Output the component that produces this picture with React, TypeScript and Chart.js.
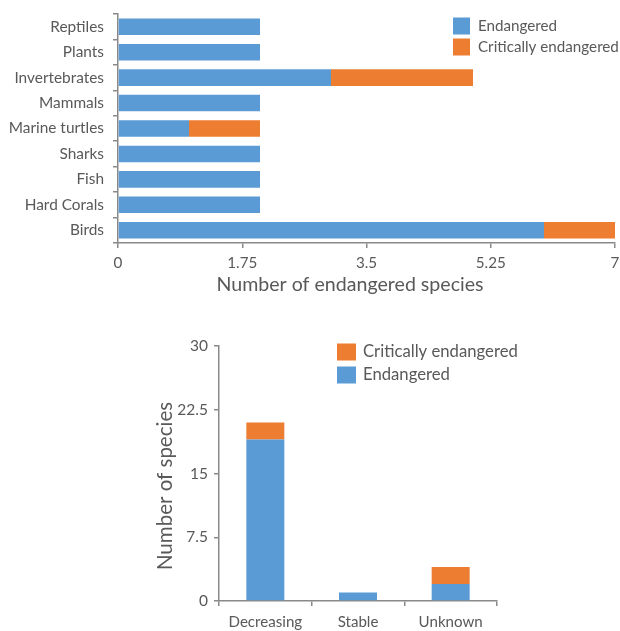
import React, { useEffect, useRef } from "react";
import { Chart, registerables } from "chart.js";

Chart.register(...registerables);

// ---- Top chart data ----
const groups = [
  "Reptiles",
  "Plants",
  "Invertebrates",
  "Mammals",
  "Marine turtles",
  "Sharks",
  "Fish",
  "Hard Corals",
  "Birds",
];
const groupEndangered = [2, 2, 3, 2, 1, 2, 2, 2, 6];
const groupCritical = [0, 0, 2, 0, 1, 0, 0, 0, 1];
const groupAxisMax = 7;
const groupAxisStep = 1.75;
const groupAxisTitle = "Number of endangered species";

// ---- Bottom chart data ----
const trends = ["Decreasing", "Stable", "Unknown"];
const trendEndangered = [19, 1, 2];
const trendCritical = [2, 0, 2];
const trendAxisMax = 30;
const trendAxisStep = 7.5;
const trendAxisTitle = "Number of species";

const BLUE = "#5B9BD5";
const ORANGE = "#ED7D31";
const TEXT = "#595959";
const AXIS = "#898989";
const FONT = "Lato";

type LegendOpts = {
  x: number;
  y: number;
  rowGap: number;
  boxW: number;
  boxH: number;
  textX: number;
  size: number;
  order: number[];
};

function makeLegend(o: LegendOpts) {
  return {
    id: "boxLegend",
    afterDraw(chart: any) {
      const ctx = chart.ctx as CanvasRenderingContext2D;
      ctx.save();
      o.order.forEach((di, i) => {
        const ds = chart.data.datasets[di];
        const cy = o.y + i * o.rowGap;
        ctx.fillStyle = ds.backgroundColor as string;
        ctx.fillRect(o.x, cy - o.boxH / 2, o.boxW, o.boxH);
        ctx.fillStyle = TEXT;
        ctx.font = `${o.size}px ${FONT}`;
        ctx.textBaseline = "middle";
        ctx.textAlign = "left";
        ctx.fillText(ds.label, o.textX, cy);
      });
      ctx.restore();
    },
  };
}

type TitleOpts = { text: string; x: number; y: number; size: number; rotate: number };

function makeAxisTitle(o: TitleOpts) {
  return {
    id: "axisTitle",
    afterDraw(chart: any) {
      const ctx = chart.ctx as CanvasRenderingContext2D;
      ctx.save();
      ctx.translate(o.x, o.y);
      ctx.rotate(o.rotate);
      ctx.fillStyle = TEXT;
      ctx.font = `${o.size}px ${FONT}`;
      ctx.textAlign = "center";
      ctx.textBaseline = "middle";
      ctx.fillText(o.text, 0, 0);
      ctx.restore();
    },
  };
}

const axisGrid = {
  display: true,
  drawOnChartArea: false,
  drawTicks: true,
  tickLength: 5,
  color: AXIS,
  lineWidth: 1.5,
};
const axisBorder = { display: true, color: AXIS, width: 1.5 };
const plainNumber = (v: any) => String(Number(v));

function TopChart() {
  const ref = useRef<HTMLCanvasElement>(null);
  useEffect(() => {
    const chart = new Chart(ref.current!, {
      type: "bar",
      data: {
        labels: groups,
        datasets: [
          {
            label: "Endangered",
            data: groupEndangered,
            backgroundColor: BLUE,
            barPercentage: 0.65,
            categoryPercentage: 1,
          },
          {
            label: "Critically endangered",
            data: groupCritical,
            backgroundColor: ORANGE,
            barPercentage: 0.65,
            categoryPercentage: 1,
          },
        ],
      },
      options: {
        indexAxis: "y",
        responsive: false,
        animation: false,
        layout: { padding: { left: 8, right: 5, top: 14, bottom: 0 } },
        plugins: { legend: { display: false }, tooltip: { enabled: false } },
        scales: {
          x: {
            stacked: true,
            min: 0,
            max: groupAxisMax,
            ticks: {
              stepSize: groupAxisStep,
              callback: plainNumber,
              color: TEXT,
              font: { family: FONT, size: 15.2 },
              padding: 6,
            },
            grid: axisGrid as any,
            border: axisBorder as any,
            afterFit: (s: any) => {
              s.height = 62;
              s.paddingLeft = 0;
              s.paddingRight = 0;
            },
          },
          y: {
            stacked: true,
            ticks: {
              color: TEXT,
              font: { family: FONT, size: 15.4 },
              padding: 9,
            },
            grid: { ...axisGrid, offset: true } as any,
            border: axisBorder as any,
            afterFit: (s: any) => {
              s.width = 110;
              s.paddingTop = 0;
              s.paddingBottom = 0;
            },
          },
        },
      },
      plugins: [
        makeLegend({
          x: 453,
          y: 26,
          rowGap: 21,
          boxW: 17,
          boxH: 17,
          textX: 478,
          size: 15.2,
          order: [0, 1],
        }),
        makeAxisTitle({ text: groupAxisTitle, x: 350, y: 285, size: 19.6, rotate: 0 }),
      ],
    } as any);
    return () => chart.destroy();
  }, []);
  return (
    <canvas
      ref={ref}
      width={620}
      height={305}
      style={{ position: "absolute", left: 0, top: 0 }}
    />
  );
}

function BottomChart() {
  const ref = useRef<HTMLCanvasElement>(null);
  useEffect(() => {
    const chart = new Chart(ref.current!, {
      type: "bar",
      data: {
        labels: trends,
        datasets: [
          {
            label: "Endangered",
            data: trendEndangered,
            backgroundColor: BLUE,
            barPercentage: 0.41,
            categoryPercentage: 1,
          },
          {
            label: "Critically endangered",
            data: trendCritical,
            backgroundColor: ORANGE,
            barPercentage: 0.41,
            categoryPercentage: 1,
          },
        ],
      },
      options: {
        responsive: false,
        animation: false,
        layout: { padding: { left: 145, right: 123, top: 36, bottom: 0 } },
        plugins: { legend: { display: false }, tooltip: { enabled: false } },
        scales: {
          x: {
            stacked: true,
            ticks: {
              color: TEXT,
              font: { family: FONT, size: 15.1 },
              padding: 7,
            },
            grid: { ...axisGrid, offset: true } as any,
            border: axisBorder as any,
            afterFit: (s: any) => {
              s.height = 30;
              s.paddingLeft = 0;
              s.paddingRight = 0;
            },
          },
          y: {
            stacked: true,
            min: 0,
            max: trendAxisMax,
            ticks: {
              stepSize: trendAxisStep,
              callback: plainNumber,
              color: TEXT,
              font: { family: FONT, size: 15.5 },
              padding: 6,
            },
            grid: axisGrid as any,
            border: axisBorder as any,
            afterFit: (s: any) => {
              s.width = 74;
              s.paddingTop = 0;
              s.paddingBottom = 0;
            },
          },
        },
      },
      plugins: [
        makeLegend({
          x: 337,
          y: 42,
          rowGap: 23,
          boxW: 19,
          boxH: 17,
          textX: 363,
          size: 16.7,
          order: [1, 0],
        }),
        makeAxisTitle({
          text: trendAxisTitle,
          x: 165,
          y: 176,
          size: 20.5,
          rotate: -Math.PI / 2,
        }),
      ],
    } as any);
    return () => chart.destroy();
  }, []);
  return (
    <canvas
      ref={ref}
      width={620}
      height={321}
      style={{ position: "absolute", left: 0, top: 310 }}
    />
  );
}

export default function App() {
  return (
    <div
      style={{
        position: "absolute",
        left: 0,
        top: 0,
        width: 620,
        height: 631,
        background: "#ffffff",
      }}
    >
      <TopChart />
      <BottomChart />
    </div>
  );
}
